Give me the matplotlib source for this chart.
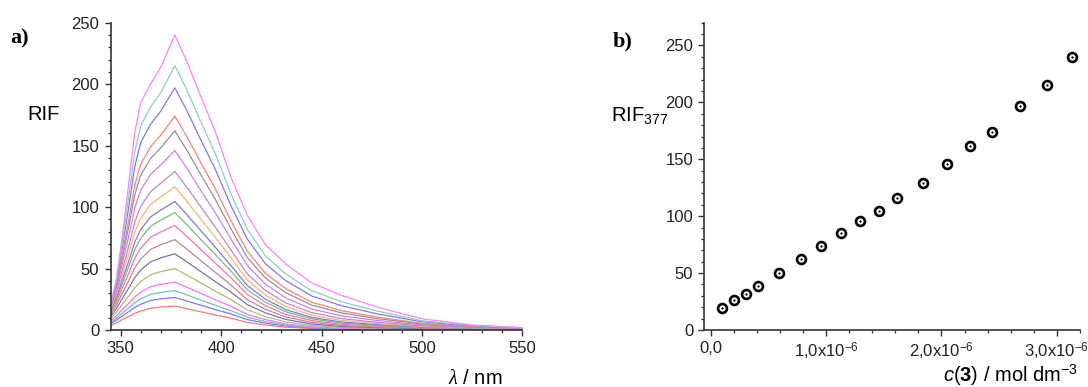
import numpy as np
import matplotlib
matplotlib.use("Agg")
import matplotlib.pyplot as plt
from matplotlib.ticker import MultipleLocator, FixedLocator, FixedFormatter

plt.rcParams["font.family"] = ["Liberation Sans", "DejaVu Sans"]
plt.rcParams["mathtext.fontset"] = "custom"
plt.rcParams["mathtext.rm"] = "Liberation Sans"
plt.rcParams["mathtext.it"] = "Liberation Serif:italic"
plt.rcParams["mathtext.bf"] = "Liberation Sans:bold"
plt.rcParams["mathtext.sf"] = "Liberation Sans:italic"

# --- panel a: emission spectra (RIF vs wavelength), lowest to highest concentration
wavelength = [345, 348, 351, 354, 357, 360, 365, 370, 377, 383, 390, 397,
              405, 413, 422, 432, 445, 460, 478, 500, 525, 550]

spectra = [
    [3.9, 6.0, 8.6, 10.9, 13.5, 15.4, 17.7, 18.7, 19.5, 17.4, 14.8, 12.3, 9.6, 6.2, 4.1, 2.3, 1.2, 0.5, 0.4, 0.3, 0.3, 0.3],
    [5.2, 8.1, 11.6, 14.8, 18.3, 20.9, 24.1, 25.4, 26.5, 23.6, 20.2, 16.7, 13.0, 8.5, 5.6, 3.3, 1.7, 0.8, 0.6, 0.4, 0.4, 0.4],
    [6.2, 9.7, 13.9, 17.8, 22.0, 25.2, 29.0, 30.6, 32.0, 28.5, 24.4, 20.2, 15.7, 10.4, 6.9, 4.0, 2.1, 1.1, 0.7, 0.5, 0.5, 0.5],
    [7.4, 11.6, 16.8, 21.6, 26.8, 30.7, 35.2, 37.2, 39.0, 34.8, 29.8, 24.7, 19.2, 12.7, 8.5, 5.0, 2.7, 1.4, 1.0, 0.7, 0.6, 0.5],
    [9.2, 14.6, 21.2, 27.5, 34.3, 39.4, 45.0, 47.5, 50.0, 44.6, 38.2, 31.8, 24.7, 16.5, 11.0, 6.7, 3.7, 2.0, 1.4, 0.9, 0.8, 0.7],
    [11.0, 17.6, 25.9, 33.9, 42.5, 48.7, 55.5, 58.7, 62.0, 55.4, 47.5, 39.6, 30.7, 20.7, 14.0, 8.7, 4.9, 2.8, 1.9, 1.2, 0.9, 0.9],
    [12.6, 20.4, 30.3, 39.9, 50.3, 57.7, 65.6, 69.3, 73.5, 65.8, 56.4, 47.1, 36.5, 24.8, 16.9, 10.7, 6.2, 3.7, 2.5, 1.5, 1.2, 1.0],
    [13.9, 23.0, 34.5, 45.8, 58.1, 66.6, 75.5, 79.8, 85.0, 76.2, 65.4, 54.7, 42.3, 29.0, 19.9, 12.8, 7.7, 4.6, 3.1, 1.9, 1.4, 1.1],
    [15.2, 25.1, 38.2, 51.2, 65.1, 74.8, 84.4, 89.4, 95.5, 85.7, 73.5, 61.7, 47.7, 32.9, 22.7, 14.9, 9.1, 5.6, 3.8, 2.2, 1.5, 1.2],
    [16.1, 27.0, 41.4, 55.7, 71.2, 81.7, 92.1, 97.5, 104.5, 93.8, 80.7, 67.6, 52.3, 36.3, 25.2, 16.7, 10.3, 6.5, 4.4, 2.5, 1.7, 1.3],
    [17.1, 29.2, 45.3, 61.6, 79.2, 91.0, 102.2, 108.2, 116.5, 104.7, 90.1, 75.7, 58.5, 40.9, 28.5, 19.3, 12.1, 7.8, 5.2, 2.9, 1.9, 1.4],
    [18.1, 31.3, 49.4, 67.7, 87.6, 100.6, 112.6, 119.3, 129.0, 116.1, 100.0, 84.1, 64.9, 45.8, 32.3, 22.2, 14.2, 9.3, 6.2, 3.4, 2.1, 1.5],
    [19.1, 34.0, 54.6, 75.9, 98.8, 113.7, 126.6, 134.3, 146.0, 131.7, 113.4, 95.8, 73.9, 52.6, 37.4, 26.3, 17.1, 11.5, 7.7, 4.1, 2.3, 1.6],
    [19.9, 36.1, 59.3, 83.4, 109.4, 125.9, 139.6, 148.2, 162.0, 146.3, 126.2, 106.8, 82.1, 59.1, 42.4, 30.5, 20.3, 13.9, 9.2, 4.9, 2.6, 1.8],
    [20.2, 37.4, 62.5, 88.9, 117.3, 135.0, 149.1, 158.5, 174.0, 157.3, 135.9, 115.2, 88.6, 64.2, 46.3, 33.8, 22.6, 15.7, 10.4, 5.4, 2.8, 1.7],
    [20.3, 39.6, 68.4, 99.3, 132.4, 152.5, 167.5, 178.1, 197.0, 178.5, 154.4, 131.2, 100.9, 74.1, 54.0, 40.4, 27.8, 19.7, 13.0, 6.7, 3.3, 1.8],
    [20.2, 40.9, 72.7, 107.1, 144.1, 166.0, 181.5, 193.1, 215.0, 195.2, 169.2, 144.1, 110.5, 82.1, 60.4, 45.8, 32.0, 23.0, 15.3, 7.5, 3.7, 1.9],
    [19.2, 42.0, 78.0, 117.6, 160.1, 184.8, 200.4, 213.6, 240.0, 218.4, 189.6, 162.0, 124.1, 93.6, 69.6, 54.0, 38.4, 28.1, 18.5, 9.1, 4.1, 1.9],
]

line_colors = ["#ff7a7a", "#7a7aff", "#74c4b4", "#ff74ff", "#b8b874", "#7474c0",
               "#c08a8a", "#ff74b0", "#78bc78", "#7c7ce4", "#ffb474", "#b88cc8",
               "#c484ff", "#939393", "#ff8474", "#7c7cff", "#8cd0c0", "#ff84ff"]

# --- panel b: RIF at 377 nm vs concentration of 3
conc = [0.102e-6, 0.205e-6, 0.307e-6, 0.406e-6, 0.596e-6, 0.779e-6, 0.960e-6,
        1.131e-6, 1.297e-6, 1.456e-6, 1.613e-6, 1.836e-6, 2.046e-6, 2.245e-6,
        2.440e-6, 2.684e-6, 2.910e-6, 3.127e-6]
rif377 = [19.1, 26.4, 31.7, 38.8, 49.9, 62.3, 73.5, 84.9, 95.5, 104.6, 116.3,
          129.0, 146.0, 161.9, 173.9, 197.1, 215.1, 240.3]
conc_ticks = [0.0, 1.0e-6, 2.0e-6, 3.0e-6]
conc_ticklabels = ["0,0", r"1,0x10$^{-6}$", r"2,0x10$^{-6}$", r"3,0x10$^{-6}$"]

W, H = 1088, 387
fig = plt.figure(figsize=(W / 100, H / 100), dpi=100)
ax_a = fig.add_axes([110.5 / W, 1 - 330 / H, (522.5 - 110.5) / W, (330 - 22.7) / H])
ax_b = fig.add_axes([704.3 / W, 1 - 330 / H, (1080 - 704.3) / W, (330 - 22.7) / H])

for vals, col in zip(spectra, line_colors):
    ax_a.plot(wavelength, vals, color=col, lw=0.9)

ax_a.set_xlim(345, 550)
ax_a.set_ylim(0, 250)
ax_a.xaxis.set_major_locator(FixedLocator([350, 400, 450, 500, 550]))
ax_a.xaxis.set_minor_locator(MultipleLocator(10))
ax_a.yaxis.set_major_locator(MultipleLocator(50))
ax_a.yaxis.set_minor_locator(MultipleLocator(10))

ax_b.plot(conc, rif377, "o", ms=6.4, mfc="white", mec="black", mew=1.9, ls="none")
ax_b.plot(conc, rif377, "o", ms=1.3, mfc="black", mec="black", mew=0.3, ls="none")
ax_b.set_xlim(-0.055e-6, 3.2e-6)
ax_b.set_ylim(0, 270)
ax_b.xaxis.set_major_locator(FixedLocator(conc_ticks))
ax_b.xaxis.set_major_formatter(FixedFormatter(conc_ticklabels))
ax_b.xaxis.set_minor_locator(MultipleLocator(0.2e-6))
ax_b.yaxis.set_major_locator(MultipleLocator(50))
ax_b.yaxis.set_minor_locator(MultipleLocator(10))

for ax in (ax_a, ax_b):
    for side in ("top", "right"):
        ax.spines[side].set_visible(False)
    for side in ("left", "bottom"):
        ax.spines[side].set_linewidth(1.2)
        ax.spines[side].set_color("#333333")
    ax.tick_params(which="major", direction="out", length=4, width=1.0,
                   color="#333333", labelsize=12, labelcolor="#222222")
    ax.tick_params(which="minor", direction="out", length=2.5, width=0.9,
                   color="#333333")
    ax.tick_params(axis="x", pad=4)
    ax.tick_params(axis="y", pad=4)

# panel labels and axis titles
fig.text(10 / W, 1 - 38 / H, "a)", family="Liberation Serif", fontweight="bold",
         fontsize=16, va="center", ha="left")
fig.text(613 / W, 1 - 41 / H, "b)", family="Liberation Serif", fontweight="bold",
         fontsize=16, va="center", ha="left")
fig.text(27 / W, 1 - 115 / H, "RIF", fontsize=14.5, va="center", ha="left")
fig.text(611 / W, 1 - 115 / H, r"RIF$_{377}$", fontsize=14.5, va="center", ha="left")
fig.text(503 / W, 1 - 378 / H, r"$\lambda$ / nm", fontsize=14.5, va="center", ha="right")
fig.text(1078 / W, 1 - 375 / H, r"$\mathsf{c}$($\mathbf{3}$) / mol dm$^{-3}$",
         fontsize=14.5, va="center", ha="right")

fig.savefig("out.png", dpi=100, facecolor="white")
